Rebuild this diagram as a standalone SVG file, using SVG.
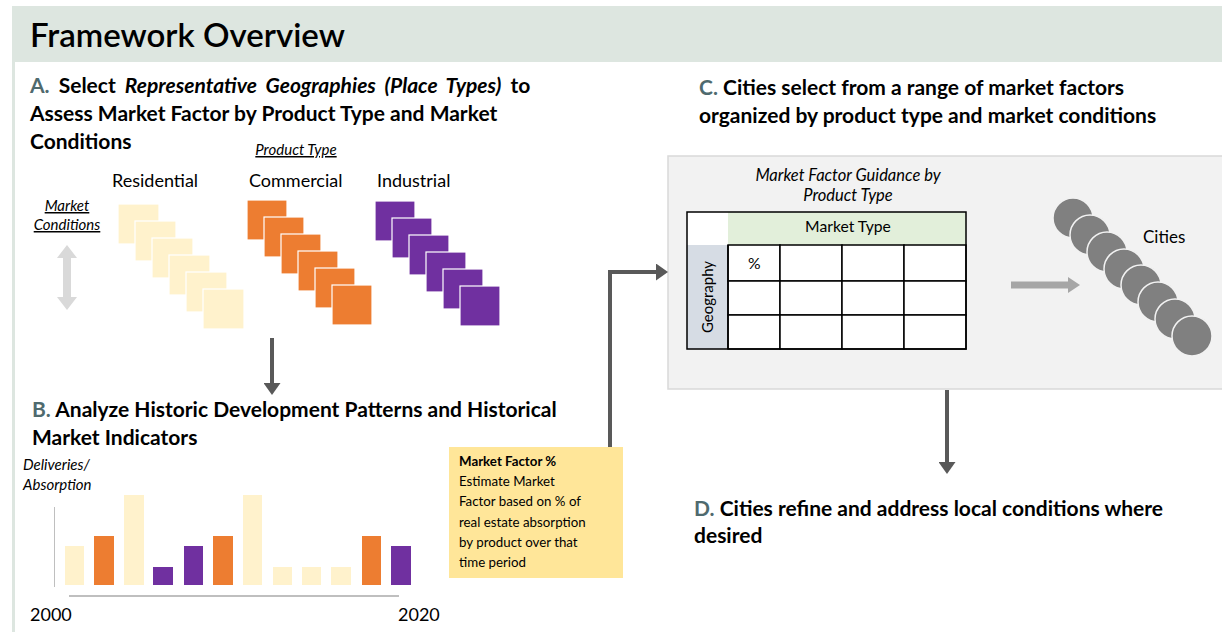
<svg xmlns="http://www.w3.org/2000/svg" width="1222" height="632" viewBox="0 0 1222 632">
<style>
  text { font-family: Lato, "Open Sans", "Liberation Sans", sans-serif; fill: #000; }
  .h { font-size: 21px; font-weight: bold; }
  .let { fill: #4f6a6e; }
  .lbl { font-size: 18px; }
  .it { font-style: italic; font-size: 15px; }
  .u { text-decoration: underline; }
  .box { font-size: 13.3px; }
  .res { fill: #fff2cc; stroke: #ffffff; stroke-width: 1.2; }
  .com { fill: #ed7d31; stroke: #ffffff; stroke-width: 1.2; }
  .ind { fill: #7030a0; stroke: #ffffff; stroke-width: 1.2; }
  .cell { fill: #ffffff; stroke: #000; stroke-width: 1.5; }
  .city { fill: #808080; stroke: #f2f2f2; stroke-width: 1.5; }
  .conn { fill: none; stroke: #595959; stroke-width: 4; }
</style>
<defs>
  <marker id="ah" viewBox="0 0 12 17" refX="0" refY="8.5" markerWidth="12" markerHeight="17" markerUnits="userSpaceOnUse" orient="auto">
    <path d="M0,0 L12,8.5 L0,17 z" fill="#595959"/>
  </marker>
</defs>
<rect x="0" y="0" width="1222" height="632" fill="#ffffff"/>

<g id="header">
  <rect x="12" y="6" width="1210" height="56" fill="#dde6e0"/>
  <rect x="12" y="62" width="3" height="570" fill="#dde6e0"/>
  <text x="30" y="47" style="font-size:33px;font-weight:600">Framework Overview</text>
</g>

<g id="sectionA">
  <text class="h" x="30" y="93" word-spacing="4"><tspan class="let">A.</tspan> Select <tspan font-style="italic">Representative Geographies (Place Types)</tspan> to</text>
  <text class="h" x="30" y="121">Assess Market Factor by Product Type and Market</text>
  <text class="h" x="30" y="149">Conditions</text>
  <text class="it u" x="296" y="155" text-anchor="middle">Product Type</text>
  <text class="lbl" x="112" y="187">Residential</text>
  <text class="lbl" x="249" y="187">Commercial</text>
  <text class="lbl" x="377" y="187">Industrial</text>
  <text class="it u" x="67" y="211" text-anchor="middle">Market</text>
  <text class="it u" x="67" y="230" text-anchor="middle">Conditions</text>
  <polygon points="67,245 77,258 71,258 71,297 77,297 67,310 57,297 63,297 63,258 57,258" fill="#d9d9d9"/>
</g>

<g id="residential">
  <rect class="res" x="118" y="204" width="41" height="40"/>
  <rect class="res" x="135" y="221" width="41" height="40"/>
  <rect class="res" x="152" y="238" width="41" height="40"/>
  <rect class="res" x="169" y="255" width="41" height="40"/>
  <rect class="res" x="186" y="272" width="41" height="40"/>
  <rect class="res" x="203" y="289" width="41" height="40"/>
</g>
<g id="commercial">
  <rect class="com" x="247" y="200" width="40" height="40"/>
  <rect class="com" x="264" y="217" width="40" height="40"/>
  <rect class="com" x="281" y="234" width="40" height="40"/>
  <rect class="com" x="298" y="251" width="40" height="40"/>
  <rect class="com" x="315" y="268" width="40" height="40"/>
  <rect class="com" x="332" y="285" width="40" height="40"/>
</g>
<g id="industrial">
  <rect class="ind" x="375" y="201" width="40" height="40"/>
  <rect class="ind" x="392" y="218" width="40" height="40"/>
  <rect class="ind" x="409" y="235" width="40" height="40"/>
  <rect class="ind" x="426" y="252" width="40" height="40"/>
  <rect class="ind" x="443" y="269" width="40" height="40"/>
  <rect class="ind" x="460" y="286" width="40" height="40"/>
</g>

<g id="sectionB">
  <text class="h" x="32" y="417"><tspan class="let">B.</tspan> Analyze Historic Development Patterns and Historical</text>
  <text class="h" x="32" y="445">Market Indicators</text>
  <text class="it" x="23" y="470">Deliveries/</text>
  <text class="it" x="23" y="490">Absorption</text>
</g>

<g id="chart">
  <line x1="54.5" y1="507" x2="54.5" y2="587" stroke="#bfbfbf" stroke-width="1"/>
  <rect x="65" y="546" width="19" height="39" fill="#fff2cc"/>
  <rect x="94" y="536" width="20" height="49" fill="#ed7d31"/>
  <rect x="124" y="495" width="20" height="90" fill="#fff2cc"/>
  <rect x="153" y="567" width="20" height="18" fill="#7030a0"/>
  <rect x="184" y="546" width="19" height="39" fill="#7030a0"/>
  <rect x="213" y="536" width="20" height="49" fill="#ed7d31"/>
  <rect x="243" y="495" width="19" height="90" fill="#fff2cc"/>
  <rect x="273" y="567" width="19" height="18" fill="#fff2cc"/>
  <rect x="302" y="567" width="19" height="18" fill="#fff2cc"/>
  <rect x="331" y="567" width="20" height="18" fill="#fff2cc"/>
  <rect x="362" y="536" width="19" height="49" fill="#ed7d31"/>
  <rect x="391" y="546" width="20" height="39" fill="#7030a0"/>
  <line x1="69" y1="596" x2="399" y2="596" stroke="#bfbfbf" stroke-width="2"/>
  <text x="30" y="621" style="font-size:18px">2000</text>
  <text x="398" y="621" style="font-size:18px">2020</text>
</g>

<g id="marketFactorBox">
  <rect x="449" y="447" width="174" height="131" fill="#ffe699"/>
  <text class="box" x="459" y="466" font-weight="bold">Market Factor %</text>
  <text class="box" x="459" y="486">Estimate Market</text>
  <text class="box" x="459" y="506">Factor based on % of</text>
  <text class="box" x="459" y="527">real estate absorption</text>
  <text class="box" x="459" y="547">by product over that</text>
  <text class="box" x="459" y="567">time period</text>
</g>

<g id="sectionC">
  <text class="h" x="699" y="95"><tspan class="let">C.</tspan> Cities select from a range of market factors</text>
  <text class="h" x="699" y="123">organized by product type and market conditions</text>
</g>

<g id="panelC">
  <rect x="668" y="156" width="560" height="233" fill="#f2f2f2" stroke="#d9d9d9" stroke-width="1.5"/>
  <text class="it" x="848" y="181" text-anchor="middle" style="font-size:16.5px">Market Factor Guidance by</text>
  <text class="it" x="848" y="201" text-anchor="middle" style="font-size:16.5px">Product Type</text>
</g>

<g id="table">
  <rect x="687" y="212" width="41" height="33" fill="#ffffff"/>
  <rect x="728" y="212" width="238" height="33" fill="#e2efda"/>
  <rect x="687" y="245" width="41" height="104" fill="#d6dce4"/>
  <rect class="cell" x="728" y="245" width="52" height="36"/>
  <rect class="cell" x="780" y="245" width="62" height="36"/>
  <rect class="cell" x="842" y="245" width="62" height="36"/>
  <rect class="cell" x="904" y="245" width="62" height="36"/>
  <rect class="cell" x="728" y="281" width="52" height="34"/>
  <rect class="cell" x="780" y="281" width="62" height="34"/>
  <rect class="cell" x="842" y="281" width="62" height="34"/>
  <rect class="cell" x="904" y="281" width="62" height="34"/>
  <rect class="cell" x="728" y="315" width="52" height="34"/>
  <rect class="cell" x="780" y="315" width="62" height="34"/>
  <rect class="cell" x="842" y="315" width="62" height="34"/>
  <rect class="cell" x="904" y="315" width="62" height="34"/>
  <rect x="687" y="212" width="279" height="137" fill="none" stroke="#000" stroke-width="1.5"/>
  <line x1="728" y1="245" x2="728" y2="349" stroke="#000" stroke-width="1.5"/>
  <text x="848" y="232" text-anchor="middle" style="font-size:15.7px">Market Type</text>
  <text x="748" y="269" style="font-size:15.7px">%</text>
  <text x="0" y="0" text-anchor="middle" transform="translate(713,297) rotate(-90)" style="font-size:15px">Geography</text>
</g>

<g id="cities">
  <polygon points="1011,281.5 1068,281.5 1068,277 1080,285 1068,293 1068,288.5 1011,288.5" fill="#a6a6a6"/>
  <circle class="city" cx="1073" cy="218" r="20"/>
  <circle class="city" cx="1090" cy="235" r="20"/>
  <circle class="city" cx="1107" cy="252" r="20"/>
  <circle class="city" cx="1124" cy="269" r="20"/>
  <circle class="city" cx="1141" cy="285" r="20"/>
  <circle class="city" cx="1158" cy="302" r="20"/>
  <circle class="city" cx="1175" cy="319" r="20"/>
  <circle class="city" cx="1192" cy="336" r="20"/>
  <text x="1143" y="243" style="font-size:17px">Cities</text>
</g>

<g id="sectionD">
  <text class="h" x="694" y="516"><tspan class="let">D.</tspan> Cities refine and address local conditions where</text>
  <text class="h" x="694" y="543">desired</text>
</g>

<g id="connectors">
  <line class="conn" x1="272" y1="338" x2="272" y2="383" marker-end="url(#ah)"/>
  <path class="conn" d="M610,447 V272 H656" marker-end="url(#ah)"/>
  <line class="conn" x1="947" y1="390" x2="947" y2="462" marker-end="url(#ah)"/>
</g>
</svg>
